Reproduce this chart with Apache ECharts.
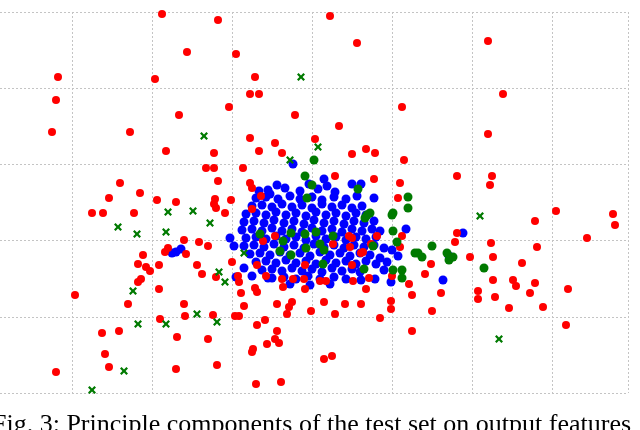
<!DOCTYPE html>
<html>
<head>
<meta charset="utf-8">
<script src="https://cdn.jsdelivr.net/npm/echarts@6/dist/echarts.min.js"></script>
<style>
  html, body { margin: 0; padding: 0; background: #fff; overflow: hidden; }
  #chart { width: 660px; height: 430px; margin-left: -8px; }
</style>
</head>
<body>
<div id="chart"></div>
<script>
// PC1 / PC2 values, in the figure's own plotting units (y axis grows downward)
const redPoints = [
  [162,14],[218,20],[330,16],[357,43],[488,41],[187,52],[236,54],[58,77],[155,79],[255,77],
  [56,100],[250,94],[259,94],[503,94],[229,107],[402,107],[179,115],[295,115],[52,132],[130,132],
  [339,126],[488,134],[250,138],[315,139],[275,143],[166,151],[214,153],[259,151],[282,153],[366,149],
  [375,153],[352,154],[404,160],[206,168],[214,168],[243,168],[335,176],[374,179],[457,176],[492,176],
  [490,185],[218,181],[250,183],[120,183],[400,183],[140,193],[109,198],[157,200],[176,202],[215,199],
  [231,200],[214,204],[252,188],[261,196],[252,209],[216,208],[398,198],[556,211],[613,214],[92,213],
  [103,213],[134,213],[225,213],[535,221],[615,225],[587,238],[184,240],[199,242],[208,246],[168,248],
  [165,252],[143,255],[186,254],[457,233],[455,242],[491,243],[537,247],[402,236],[400,247],[377,236],
  [371,244],[350,247],[361,253],[470,257],[493,257],[431,264],[522,263],[138,264],[146,267],[150,271],
  [159,265],[197,265],[232,262],[257,265],[305,265],[352,265],[202,274],[216,277],[238,276],[266,276],
  [392,276],[425,274],[141,279],[138,282],[239,282],[282,279],[293,279],[304,279],[320,281],[326,281],
  [353,281],[369,278],[493,280],[513,280],[535,283],[409,284],[516,286],[75,295],[159,289],[241,293],
  [255,288],[257,292],[283,287],[305,289],[366,289],[412,295],[441,293],[478,291],[478,299],[495,297],
  [530,293],[568,289],[128,304],[184,304],[244,306],[277,304],[292,302],[289,307],[324,302],[345,304],
  [361,304],[391,301],[391,309],[432,311],[509,308],[543,307],[185,316],[213,315],[235,316],[239,316],
  [287,314],[311,311],[335,314],[380,318],[160,319],[265,320],[257,325],[566,325],[102,333],[119,331],
  [277,331],[412,331],[177,337],[208,339],[275,339],[279,343],[267,344],[253,349],[252,352],[105,354],
  [109,367],[176,369],[217,365],[324,359],[332,356],[56,372],[256,384],[281,382],
  [263,241],[275,236],[333,244],[352,238],[363,252],[349,236]
];

const greenCrosses = [
  [301,77],[204,136],[318,147],[290,160],[168,212],[193,211],[480,216],[118,227],[137,234],[166,232],
  [210,223],[133,291],[219,272],[225,282],[197,314],[138,324],[166,324],[217,322],[499,339],[124,371],
  [92,390],[244,253]
];

const greenDots = [
  [314,160],[305,176],[312,185],[307,198],[358,189],[408,197],[408,208],[370,213],[393,213],[367,215],
  [365,218],[392,215],[393,231],[397,242],[415,253],[260,234],[291,233],[305,234],[316,232],[333,236],
  [283,241],[320,244],[324,250],[280,251],[306,248],[291,255],[323,264],[373,246],[364,269],[402,270],
  [402,278],[393,270],[418,253],[422,257],[432,246],[447,253],[453,257],[484,268],[449,260]
];

const bluePoints = [
  [268,190],[285,188],[300,191],[318,189],[335,192],[277,185],[309,184],[327,186],
  [256,198],[266,197],[278,199],[290,196],[300,199],[312,197],[322,200],[334,197],[346,199],
  [252,206],[262,205],[272,207],[282,204],[292,207],[302,205],[312,208],[322,204],[332,207],[342,205],[352,208],[362,206],
  [246,214],[256,213],[266,215],[276,212],[286,215],[296,213],[306,216],[316,212],[326,215],[336,213],[346,216],[356,213],[366,215],
  [244,222],[254,221],[264,223],[274,220],[284,223],[294,221],[304,224],[314,220],[324,223],[334,221],[344,224],[354,221],[364,223],[374,221],
  [242,230],[252,229],[262,231],[272,228],[282,231],[292,229],[302,232],[312,228],[322,231],[332,229],[342,232],[352,229],[362,231],[372,229],[380,231],
  [246,238],[256,237],[266,239],[276,236],[286,239],[296,237],[306,240],[316,236],[326,239],[336,237],[346,240],[356,237],[366,239],[376,237],
  [244,246],[254,245],[264,247],[274,244],[284,247],[294,245],[304,248],[314,244],[324,247],[334,245],[344,248],[354,245],[364,247],[374,245],[384,248],
  [250,254],[260,253],[270,255],[280,252],[290,255],[300,253],[310,256],[320,252],[330,255],[340,253],[350,256],[360,253],[370,255],[380,258],
  [256,262],[266,261],[276,263],[286,260],[296,263],[306,261],[316,264],[326,260],[336,263],[346,261],[356,264],[366,261],[376,264],
  [262,270],[272,269],[282,271],[292,268],[302,271],[312,269],[322,272],[332,268],[342,271],[352,269],[360,272],
  [272,278],[284,277],[296,279],[308,276],[320,279],[334,277],[346,279],
  [290,284],[310,285],[330,284],[252,276],[244,268],[361,280],[384,270],
  [293,164],[324,179],[352,184],[361,184],[357,196],[374,198],[270,194],[259,191],
  [176,252],[172,253],[181,249],[236,277],[268,278],[230,238],[234,246],
  [463,233],[449,256],[443,280],[406,229],[398,256],[375,279],[391,282],[387,262],[392,250]
];

const crossPath = 'path://M0,2 L2,0 L5,3 L8,0 L10,2 L7,5 L10,8 L8,10 L5,7 L2,10 L0,8 L3,5 Z';

const chart = echarts.init(document.getElementById('chart'));

const gridLine = { show: true, lineStyle: { color: '#c4c4c4', type: [2, 2], width: 1 } };

chart.setOption({
  animation: false,
  backgroundColor: '#fff',
  grid: { left: 0, right: 24, top: 12, bottom: 37 },
  xAxis: {
    type: 'value', min: -8, max: 628, interval: 80,
    axisLine: { show: false }, axisTick: { show: false }, axisLabel: { show: false },
    splitLine: gridLine
  },
  yAxis: {
    type: 'value', inverse: true, min: 12, max: 393, interval: 76.2,
    axisLine: { show: false }, axisTick: { show: false }, axisLabel: { show: false },
    splitLine: gridLine
  },
  series: [
    { type: 'scatter', data: bluePoints, symbolSize: 9, itemStyle: { color: '#0000ff', opacity: 1 } },
    { type: 'scatter', data: redPoints, symbolSize: 8, itemStyle: { color: '#ff0000', opacity: 1 } },
    { type: 'scatter', data: greenDots, symbolSize: 9, itemStyle: { color: '#007a00', opacity: 1 } },
    { type: 'scatter', data: greenCrosses, symbol: crossPath, symbolSize: 8, itemStyle: { color: '#007a00', opacity: 1 } }
  ],
  graphic: [{
    type: 'text', left: 0, top: 412,
    style: {
      text: 'Fig. 3: Principle components of the test set on output features',
      font: '26px "Liberation Serif"', fill: '#000'
    }
  }]
});
</script>
</body>
</html>
